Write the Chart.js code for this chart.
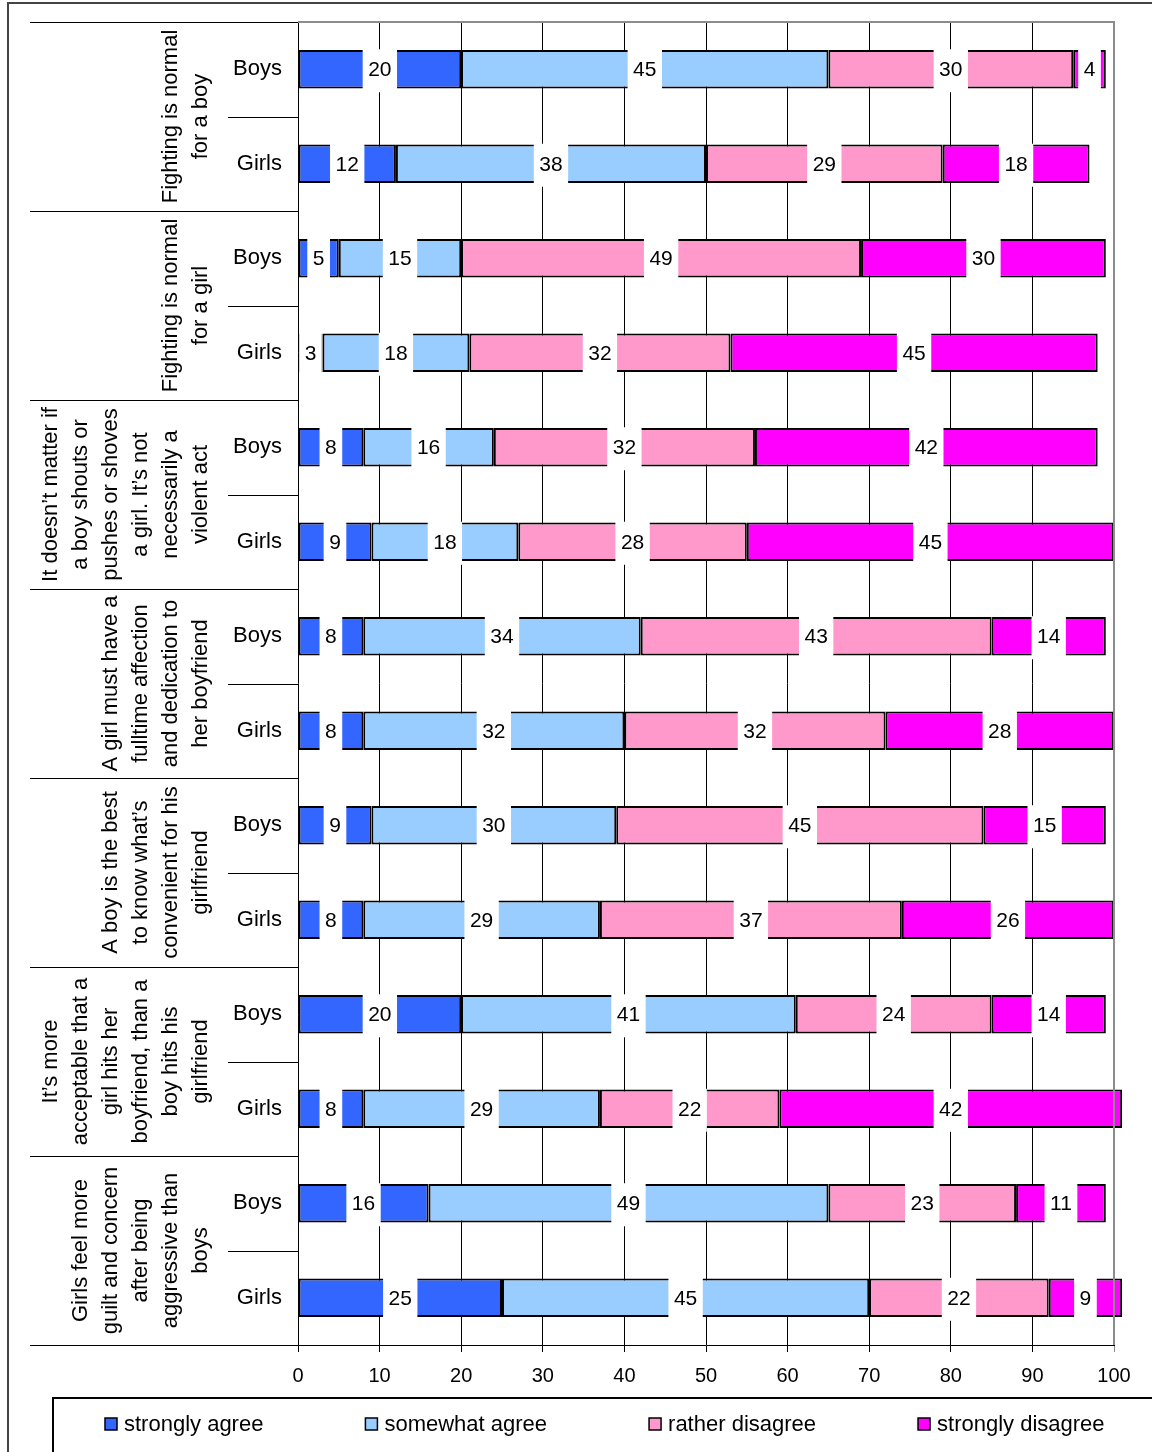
<!DOCTYPE html>
<html>
<head>
<meta charset="utf-8">
<script src="https://cdn.jsdelivr.net/npm/chart.js@4/dist/chart.umd.min.js"></script>
<style>
  html, body { margin: 0; padding: 0; background: #fff; }
  #wrap { width: 1152px; height: 1452px; }
</style>
</head>
<body>
<div id="wrap"><canvas id="attitudeChart" width="1152" height="1452"></canvas></div>
<script>
'use strict';

/* --------------------------------------------------------------------------
   DATA
   -------------------------------------------------------------------------- */
const rowLabels = ['Boys', 'Girls', 'Boys', 'Girls', 'Boys', 'Girls', 'Boys',
                   'Girls', 'Boys', 'Girls', 'Boys', 'Girls', 'Boys', 'Girls'];

const statements = [
    ['Fighting is normal', 'for a boy'],
    ['Fighting is normal', 'for a girl'],
    ['It doesn\u2019t matter if', 'a boy shouts or', 'pushes or shoves', 'a girl. It\u2019s not', 'necessarily a', 'violent act'],
    ['A girl must have a', 'fulltime affection', 'and dedication to', 'her boyfriend'],
    ['A boy is the best', 'to know what\u2019s', 'convenient for his', 'girlfriend'],
    ['It\u2019s more', 'acceptable that a', 'girl hits her', 'boyfriend, than a', 'boy hits his', 'girlfriend'],
    ['Girls feel more', 'guilt and concern', 'after being', 'aggressive than', 'boys'],
];

const stronglyAgree    = [20, 12, 5, 3, 8, 9, 8, 8, 9, 8, 20, 8, 16, 25];
const somewhatAgree    = [45, 38, 15, 18, 16, 18, 34, 32, 30, 29, 41, 29, 49, 45];
const ratherDisagree   = [30, 29, 49, 32, 32, 28, 43, 32, 45, 37, 24, 22, 23, 22];
const stronglyDisagree = [4, 18, 30, 45, 42, 45, 14, 28, 15, 26, 14, 42, 11, 9];

const seriesNames = ['strongly agree', 'somewhat agree', 'rather disagree', 'strongly disagree'];
const xTicks = [0, 10, 20, 30, 40, 50, 60, 70, 80, 90, 100];

const COLORS = ['#3366FF', '#99CCFF', '#FF99CC', '#FF00FF'];
const FONT = '"Liberation Sans", Arial, sans-serif';

/* --------------------------------------------------------------------------
   PLUGINS
   -------------------------------------------------------------------------- */

// white boxes with the value in the middle of each segment
const segmentLabels = {
    id: 'segmentLabels',
    afterDatasetsDraw(chart) {
        const ctx = chart.ctx;
        ctx.save();
        ctx.font = '21px ' + FONT;
        ctx.textAlign = 'center';
        ctx.textBaseline = 'middle';
        chart.data.datasets.forEach((ds, di) => {
            chart.getDatasetMeta(di).data.forEach((bar, i) => {
                const v = ds.data[i];
                const cx = (bar.x + bar.base) / 2;
                const tw = ctx.measureText(String(v)).width;
                ctx.fillStyle = '#fff';
                ctx.fillRect(cx - tw / 2 - 5.5, bar.y - 20, tw + 11, 43);
                ctx.fillStyle = '#000';
                ctx.fillText(String(v), cx, bar.y + 1);
            });
        });
        ctx.restore();
    }
};

// left-hand two level category panel, frame, borders and legend
const frameAndPanel = {
    id: 'frameAndPanel',
    afterDraw(chart) {
        const ctx = chart.ctx;
        const area = chart.chartArea;
        const y = chart.scales.y;
        const catH = (area.bottom - area.top) / rowLabels.length;
        ctx.save();

        // plot top and right border (grey)
        ctx.strokeStyle = '#8c8c8c';
        ctx.lineWidth = 2;
        ctx.beginPath();
        ctx.moveTo(area.left, area.top);
        ctx.lineTo(area.right, area.top);
        ctx.lineTo(area.right, area.bottom);
        ctx.stroke();

        // separators of the category panel
        ctx.strokeStyle = '#000';
        ctx.lineWidth = 1;
        for (let r = 0; r <= rowLabels.length; r++) {
            const yy = Math.round(area.top + r * catH) + 0.5;
            ctx.beginPath();
            ctx.moveTo(r % 2 === 0 ? 30 : 228, yy);
            ctx.lineTo(area.left, yy);
            ctx.stroke();
        }

        // Boys / Girls
        ctx.fillStyle = '#000';
        ctx.font = '22px ' + FONT;
        ctx.textAlign = 'right';
        ctx.textBaseline = 'middle';
        rowLabels.forEach((lab, i) => {
            ctx.fillText(lab, 282, y.getPixelForValue(i));
        });

        // rotated statements
        ctx.textAlign = 'center';
        statements.forEach((lines, g) => {
            const cy = area.top + (g * 2 + 1) * catH;
            ctx.save();
            ctx.translate(0, cy);
            ctx.rotate(-Math.PI / 2);
            lines.forEach((ln, i) => {
                ctx.fillText(ln, 0, 201 - (lines.length - 1 - i) * 30);
            });
            ctx.restore();
        });

        // outer frame
        ctx.strokeStyle = '#444';
        ctx.lineWidth = 2;
        ctx.strokeRect(8, 3, 1160, 1470);

        // legend
        ctx.strokeStyle = '#000';
        ctx.lineWidth = 2;
        ctx.strokeRect(53, 1398, 1120, 80);
        let lx = 105;
        const ly = 1424;
        ctx.textAlign = 'left';
        chart.data.datasets.forEach((ds, di) => {
            ctx.fillStyle = ds.backgroundColor;
            ctx.fillRect(lx, ly - 6, 12, 12);
            ctx.lineWidth = 1.5;
            ctx.strokeStyle = '#000';
            ctx.strokeRect(lx, ly - 6, 12, 12);
            ctx.fillStyle = '#000';
            ctx.fillText(ds.label, lx + 19, ly + 1);
            lx += 19 + ctx.measureText(ds.label).width + 102;
        });

        ctx.restore();
    }
};

/* --------------------------------------------------------------------------
   CHART
   -------------------------------------------------------------------------- */
const seriesData = [stronglyAgree, somewhatAgree, ratherDisagree, stronglyDisagree];

new Chart(document.getElementById('attitudeChart').getContext('2d'), {
    type: 'bar',
    data: {
        labels: rowLabels,
        datasets: seriesData.map((d, i) => ({
            label: seriesNames[i],
            data: d,
            backgroundColor: COLORS[i],
            borderColor: '#000',
            borderWidth: 2,
            borderSkipped: false,
            barPercentage: 0.41,
            categoryPercentage: 1,
            clip: false,
        })),
    },
    options: {
        indexAxis: 'y',
        responsive: false,
        animation: false,
        layout: { padding: { left: 298, right: 38, top: 22, bottom: 57 } },
        plugins: {
            legend: { display: false },
            tooltip: { enabled: false },
        },
        scales: {
            x: {
                stacked: true,
                min: 0,
                max: 100,
                afterBuildTicks: s => { s.ticks = xTicks.map(v => ({ value: v })); },
                afterFit: s => { s.height = 50; },
                ticks: { color: '#000', font: { family: FONT, size: 20 }, padding: 12 },
                grid: {
                    color: c => (c.tick && c.tick.value === 100 ? '#8c8c8c' : '#000'),
                    lineWidth: 1,
                    tickLength: 7,
                    drawTicks: true,
                },
                border: { color: '#000', width: 1 },
            },
            y: {
                stacked: true,
                display: false,
            },
        },
    },
    plugins: [segmentLabels, frameAndPanel],
});
</script>
</body>
</html>
